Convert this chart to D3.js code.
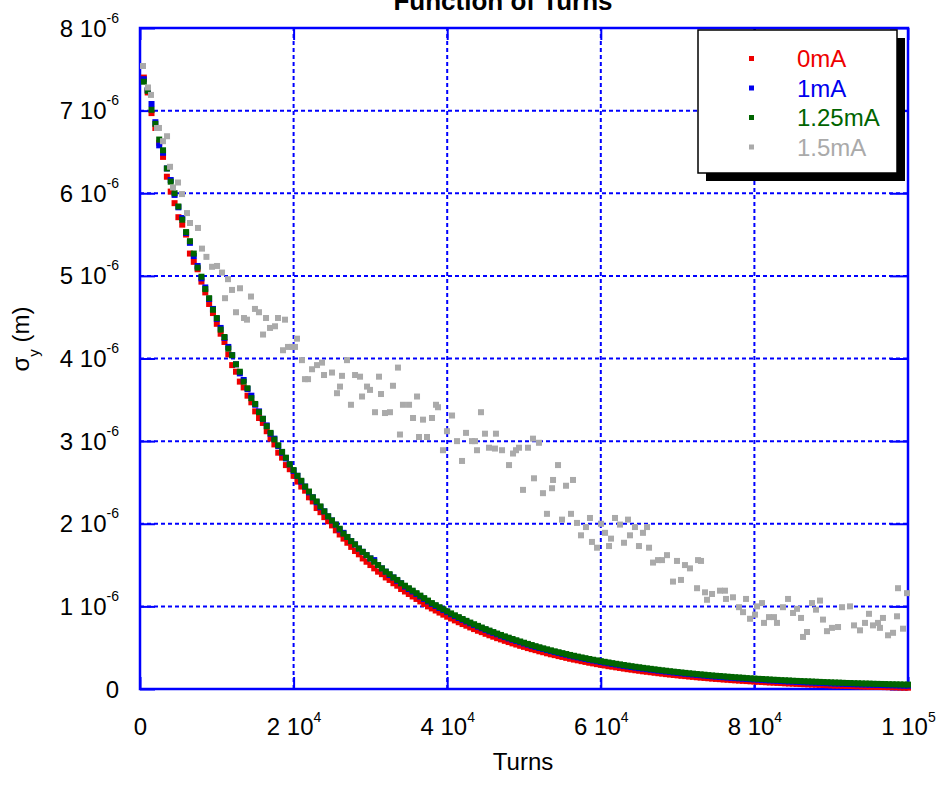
<!DOCTYPE html>
<html>
<head>
<meta charset="utf-8">
<script src="https://cdn.jsdelivr.net/npm/d3@7"></script>
<style>
  html, body { margin: 0; padding: 0; background: #fff; }
  svg { display: block; font-family: "Liberation Sans", Arial, sans-serif; }
</style>
</head>
<body>
<svg id="chart" width="939" height="799"></svg>
<script>
// Turn numbers shared by the 0mA, 1mA and 1.25mA runs
const turns = [
  500,1000,1500,2000,2500,3000,3500,4000,4500,5000,
  5500,6000,6500,7000,7500,8000,8500,9000,9500,10000,
  10500,11000,11500,12000,12500,13000,13500,14000,14500,15000,
  15500,16000,16500,17000,17500,18000,18500,19000,19500,20000,
  20500,21000,21500,22000,22500,23000,23500,24000,24500,25000,
  25500,26000,26500,27000,27500,28000,28500,29000,29500,30000,
  30500,31000,31500,32000,32500,33000,33500,34000,34500,35000,
  35500,36000,36500,37000,37500,38000,38500,39000,39500,40000,
  40500,41000,41500,42000,42500,43000,43500,44000,44500,45000,
  45500,46000,46500,47000,47500,48000,48500,49000,49500,50000,
  50500,51000,51500,52000,52500,53000,53500,54000,54500,55000,
  55500,56000,56500,57000,57500,58000,58500,59000,59500,60000,
  60500,61000,61500,62000,62500,63000,63500,64000,64500,65000,
  65500,66000,66500,67000,67500,68000,68500,69000,69500,70000,
  70500,71000,71500,72000,72500,73000,73500,74000,74500,75000,
  75500,76000,76500,77000,77500,78000,78500,79000,79500,80000,
  80500,81000,81500,82000,82500,83000,83500,84000,84500,85000,
  85500,86000,86500,87000,87500,88000,88500,89000,89500,90000,
  90500,91000,91500,92000,92500,93000,93500,94000,94500,95000,
  95500,96000,96500,97000,97500,98000,98500,99000,99500,100000
];

// Vertical beam size sigma_y, in units of 1e-6 m
const sigma0mA = [
  7.40,7.22,6.97,6.79,6.61,6.44,6.20,6.02,5.88,5.71,
  5.62,5.50,5.27,5.17,5.08,4.93,4.80,4.66,4.55,4.42,
  4.30,4.20,4.05,3.92,3.84,3.72,3.65,3.55,3.47,3.36,
  3.28,3.22,3.12,3.03,2.96,2.86,2.80,2.71,2.66,2.58,
  2.51,2.45,2.40,2.32,2.27,2.19,2.14,2.08,2.03,1.98,
  1.92,1.87,1.82,1.77,1.72,1.67,1.63,1.58,1.54,1.50,
  1.46,1.42,1.39,1.35,1.32,1.28,1.25,1.21,1.18,1.15,
  1.12,1.09,1.06,1.03,1.00,0.975,0.950,0.925,0.900,0.875,
  0.853,0.830,0.808,0.786,0.766,0.745,0.725,0.705,0.688,0.668,
  0.650,0.633,0.615,0.600,0.583,0.568,0.552,0.538,0.523,0.510,
  0.495,0.482,0.470,0.456,0.445,0.432,0.420,0.410,0.398,0.388,
  0.377,0.366,0.356,0.347,0.337,0.328,0.318,0.310,0.301,0.293,
  0.285,0.276,0.270,0.262,0.255,0.247,0.240,0.234,0.227,0.221,
  0.214,0.209,0.203,0.197,0.191,0.186,0.180,0.175,0.170,0.165,
  0.160,0.156,0.151,0.147,0.142,0.138,0.134,0.130,0.126,0.122,
  0.119,0.115,0.112,0.108,0.105,0.102,0.099,0.096,0.093,0.090,
  0.087,0.085,0.082,0.079,0.077,0.074,0.072,0.069,0.067,0.065,
  0.062,0.060,0.058,0.056,0.054,0.052,0.050,0.048,0.046,0.044,
  0.042,0.041,0.039,0.037,0.036,0.034,0.033,0.031,0.030,0.028,
  0.027,0.026,0.024,0.023,0.022,0.021,0.020,0.018,0.017,0.016
];

const sigma1mA = [
  7.38,7.25,7.08,6.86,6.58,6.49,6.30,6.16,5.98,5.83,
  5.70,5.52,5.40,5.24,5.12,4.97,4.86,4.72,4.60,4.48,
  4.37,4.25,4.14,4.04,3.93,3.82,3.74,3.63,3.55,3.44,
  3.36,3.27,3.19,3.09,3.03,2.94,2.86,2.79,2.72,2.64,
  2.58,2.51,2.45,2.38,2.32,2.26,2.20,2.15,2.09,2.04,
  1.99,1.93,1.89,1.84,1.79,1.75,1.70,1.66,1.62,1.58,
  1.56,1.50,1.46,1.42,1.38,1.35,1.31,1.28,1.24,1.21,
  1.18,1.15,1.12,1.09,1.06,1.03,1.005,0.980,0.955,0.930,
  0.905,0.882,0.860,0.838,0.816,0.795,0.774,0.755,0.735,0.716,
  0.697,0.680,0.662,0.645,0.628,0.612,0.596,0.581,0.566,0.551,
  0.537,0.523,0.510,0.497,0.484,0.471,0.459,0.447,0.436,0.425,
  0.414,0.403,0.393,0.383,0.373,0.363,0.354,0.345,0.336,0.327,
  0.319,0.311,0.303,0.295,0.287,0.280,0.273,0.266,0.259,0.252,
  0.246,0.240,0.234,0.228,0.222,0.216,0.211,0.205,0.200,0.195,
  0.190,0.185,0.180,0.176,0.171,0.167,0.163,0.158,0.154,0.150,
  0.147,0.143,0.139,0.136,0.132,0.129,0.125,0.122,0.119,0.116,
  0.113,0.110,0.107,0.104,0.102,0.099,0.096,0.094,0.091,0.089,
  0.087,0.084,0.082,0.080,0.078,0.076,0.074,0.072,0.070,0.068,
  0.066,0.065,0.063,0.061,0.060,0.058,0.057,0.055,0.054,0.052,
  0.051,0.050,0.048,0.047,0.046,0.045,0.044,0.042,0.041,0.040
];

const sigma125mA = [
  7.35,7.24,7.01,6.84,6.65,6.52,6.30,6.14,6.00,5.84,
  5.68,5.53,5.42,5.27,5.10,4.99,4.84,4.73,4.59,4.49,
  4.35,4.26,4.12,4.04,3.93,3.84,3.72,3.64,3.52,3.45,
  3.35,3.27,3.18,3.10,3.02,2.95,2.87,2.80,2.72,2.65,
  2.58,2.52,2.45,2.39,2.32,2.27,2.21,2.15,2.09,2.04,
  1.99,1.94,1.88,1.84,1.79,1.75,1.70,1.66,1.62,1.58,
  1.54,1.50,1.46,1.42,1.39,1.35,1.32,1.28,1.25,1.22,
  1.19,1.16,1.13,1.10,1.07,1.04,1.015,0.990,0.965,0.940,
  0.915,0.892,0.870,0.847,0.825,0.804,0.784,0.764,0.744,0.725,
  0.707,0.689,0.671,0.654,0.637,0.621,0.605,0.590,0.575,0.560,
  0.546,0.532,0.518,0.505,0.492,0.480,0.468,0.456,0.445,0.434,
  0.423,0.412,0.402,0.392,0.382,0.373,0.363,0.354,0.346,0.337,
  0.329,0.321,0.313,0.305,0.298,0.290,0.283,0.276,0.269,0.263,
  0.256,0.250,0.244,0.238,0.232,0.226,0.221,0.215,0.210,0.205,
  0.200,0.195,0.190,0.186,0.181,0.177,0.173,0.168,0.164,0.160,
  0.157,0.153,0.149,0.146,0.142,0.139,0.136,0.132,0.129,0.126,
  0.123,0.121,0.118,0.115,0.112,0.110,0.107,0.105,0.103,0.100,
  0.098,0.096,0.094,0.092,0.090,0.088,0.086,0.084,0.082,0.080,
  0.078,0.077,0.075,0.073,0.072,0.070,0.069,0.067,0.066,0.065,
  0.063,0.062,0.061,0.060,0.058,0.057,0.056,0.055,0.054,0.053
];

// The 1.5mA run, with its own turn numbers
const turns15mA = [
  390,1040,1430,2210,2470,2990,3520,3910,4300,4950,
  5470,6120,6510,7550,8070,8650,9380,10030,10680,11070,
  11460,11980,12500,13020,13540,13930,14450,14970,15490,16020,
  16410,16930,17580,17970,18620,18880,19270,19790,20180,20440,
  21090,21480,21880,22400,23050,23700,23960,25000,25650,26040,
  26300,26950,27470,28000,28650,28910,29560,29950,30600,31120,
  31380,31900,32550,32940,33590,33850,34240,35030,35550,36070,
  36330,36850,37370,38020,38540,38800,39450,39970,40630,41280,
  41930,42450,43230,43620,43880,44400,44920,45440,46220,46350,
  47140,48050,48570,48960,49350,49870,50520,51170,51300,51950,
  52470,52990,53650,53780,54430,54950,55470,56120,56380,56900,
  57420,58070,58590,58850,59510,60030,60550,61070,61330,61850,
  62500,63020,63540,63800,64450,64970,65490,66020,66280,66800,
  67450,67970,68620,69400,69920,70440,70960,71610,72530,72660,
  73050,73570,73830,74480,75520,76170,76300,77210,77990,78520,
  78910,79430,80080,80340,80990,81250,81900,82550,82940,83720,
  84380,85030,85550,86070,86330,86850,87500,88020,88540,88930,
  89450,90100,90890,91410,92450,92970,93750,94400,94920,95440,
  96090,96350,96740,97400,98050,98570,98700,99350,99870
];

const sigma15mA = [
  7.54,7.28,7.19,6.79,6.79,6.63,6.69,6.32,6.07,6.13,
  5.99,5.76,5.64,5.58,5.33,5.23,5.11,5.12,5.04,4.73,
  4.96,4.83,4.56,4.85,4.49,4.47,4.75,4.60,4.56,4.29,
  4.49,4.37,4.39,4.49,4.10,4.47,4.14,4.14,4.14,4.24,
  3.98,3.75,3.75,3.87,3.92,3.95,3.80,3.83,3.58,3.66,
  3.79,3.98,3.44,3.80,3.78,3.54,3.66,3.62,3.35,3.78,
  3.57,3.34,3.35,3.67,3.89,3.08,3.44,3.44,3.28,3.54,
  3.05,3.26,3.05,3.28,3.44,3.41,2.89,3.12,3.31,3.00,
  2.76,3.10,3.00,3.00,2.89,3.35,3.09,2.92,2.91,3.09,
  2.89,2.71,2.85,2.89,2.92,2.41,2.92,3.03,2.55,2.98,
  2.37,2.12,2.43,2.53,2.71,2.05,2.46,2.12,2.53,2.01,
  1.86,1.96,2.07,1.78,1.71,2.00,1.89,1.73,1.82,2.07,
  1.99,1.77,2.05,1.86,1.96,1.73,1.89,1.96,1.71,1.53,
  1.56,1.56,1.62,1.30,1.55,1.32,1.50,1.46,1.22,1.56,
  1.55,1.17,1.08,1.15,1.19,1.19,1.09,1.11,0.99,0.93,
  1.09,0.85,0.90,1.00,1.04,0.80,0.87,0.87,0.80,0.99,
  1.09,0.92,0.97,0.86,0.63,0.69,1.04,0.96,1.07,0.84,
  0.70,0.74,0.75,0.99,1.00,0.77,0.71,0.80,0.91,0.77,
  0.80,0.74,0.86,0.65,0.68,0.88,1.22,0.73,1.16
];

const seriesNames = ["0mA", "1mA", "1.25mA", "1.5mA"];
const seriesColors = ["#ee0000", "#0000ee", "#006400", "#aaaaaa"];

const xTicks = [0, 20000, 40000, 60000, 80000, 100000];
const xTickMantissa = ["0", "2 10", "4 10", "6 10", "8 10", "1 10"];
const xTickExponent = ["", "4", "4", "4", "4", "5"];

const yTicks = [0, 1, 2, 3, 4, 5, 6, 7, 8];
const yTickMantissa = ["0", "1 10", "2 10", "3 10", "4 10", "5 10", "6 10", "7 10", "8 10"];
const yTickExponent = ["", "-6", "-6", "-6", "-6", "-6", "-6", "-6", "-6"];

const frameBlue = "#0000ff";

const svg = d3.select("#chart");

const x = d3.scaleLinear().domain([0, 100000]).range([140, 908]);
const y = d3.scaleLinear().domain([0, 8]).range([689, 28]);

// Dashed grid
const grid = svg.append("g");
grid.selectAll("line.h").data(yTicks.slice(1, -1)).join("line")
  .attr("class", "h")
  .attr("x1", x(0)).attr("x2", x(100000))
  .attr("y1", d => y(d)).attr("y2", d => y(d))
  .attr("stroke", frameBlue).attr("stroke-width", 2)
  .attr("stroke-dasharray", "4,3");
grid.selectAll("line.v").data(xTicks.slice(1, -1)).join("line")
  .attr("class", "v")
  .attr("y1", y(0)).attr("y2", y(8))
  .attr("x1", d => x(d)).attr("x2", d => x(d))
  .attr("stroke", frameBlue).attr("stroke-width", 2)
  .attr("stroke-dasharray", "4,3");

// Tick label with a raised exponent
function writeLabel(textSel, mantissa, exponent, raise) {
  textSel.text(null);
  textSel.append("tspan").text(mantissa);
  if (exponent) {
    textSel.append("tspan").attr("font-size", 14).attr("dy", -raise).text(exponent);
  }
}

function styleAxis(g) {
  g.attr("font-family", null).attr("font-size", 24);
  g.select(".domain").remove();
  g.selectAll(".tick line").attr("stroke", frameBlue).attr("stroke-width", 2);
}

// Bottom axis
svg.append("g")
  .attr("transform", `translate(0,${y(0)})`)
  .call(d3.axisBottom(x).tickValues(xTicks).tickSize(-12).tickSizeOuter(0))
  .call(styleAxis)
  .call(g => g.selectAll(".tick text")
    .attr("y", 46).attr("dy", null).attr("fill", "#000")
    .each(function (d, i) { writeLabel(d3.select(this), xTickMantissa[i], xTickExponent[i], 13); }));

// Left axis
svg.append("g")
  .attr("transform", `translate(${x(0)},0)`)
  .call(d3.axisLeft(y).tickValues(yTicks).tickSize(-15).tickSizeOuter(0))
  .call(styleAxis)
  .call(g => g.selectAll(".tick text")
    .attr("x", -21).attr("y", 8).attr("dy", null).attr("fill", "#000")
    .each(function (d, i) { writeLabel(d3.select(this), yTickMantissa[i], yTickExponent[i], 14); }));

// Top and right ticks, no labels
svg.append("g")
  .attr("transform", `translate(0,${y(8)})`)
  .call(d3.axisTop(x).tickValues(xTicks).tickSize(-12).tickSizeOuter(0).tickFormat(() => ""))
  .call(styleAxis);
svg.append("g")
  .attr("transform", `translate(${x(100000)},0)`)
  .call(d3.axisRight(y).tickValues(yTicks).tickSize(-18).tickSizeOuter(0).tickFormat(() => ""))
  .call(styleAxis);

// Plot frame
svg.append("rect")
  .attr("x", x(0)).attr("y", y(8))
  .attr("width", x(100000) - x(0)).attr("height", y(0) - y(8))
  .attr("fill", "none").attr("stroke", frameBlue).attr("stroke-width", 2.5);

// Data points
const series = [
  { t: turns, s: sigma0mA },
  { t: turns, s: sigma1mA },
  { t: turns, s: sigma125mA },
  { t: turns15mA, s: sigma15mA }
];
const marker = 6;
series.forEach((ser, k) => {
  const pts = ser.s.map((v, i) => ({ t: ser.t[i], v }));
  svg.append("g").selectAll("rect").data(pts).join("rect")
    .attr("x", d => x(d.t) - marker / 2)
    .attr("y", d => y(d.v) - marker / 2)
    .attr("width", marker).attr("height", marker)
    .attr("fill", seriesColors[k]);
});

// Title (partly above the top edge)
svg.append("text")
  .attr("x", 503).attr("y", 10)
  .attr("text-anchor", "middle")
  .attr("font-size", 26).attr("font-weight", "bold")
  .attr("fill", "#000")
  .text("Function of Turns");

// Axis titles
svg.append("text")
  .attr("x", 523).attr("y", 770)
  .attr("text-anchor", "middle")
  .attr("font-size", 24).attr("fill", "#000")
  .text("Turns");

svg.append("text")
  .attr("transform", "translate(29,339) rotate(-90)")
  .attr("text-anchor", "middle")
  .attr("font-size", 24).attr("fill", "#000")
  .call(t => {
    t.append("tspan").text("σ");
    t.append("tspan").attr("font-size", 15).attr("dy", 10).text("y");
    t.append("tspan").attr("dy", -10).text(" (m)");
  });

// Legend with drop shadow
const legend = svg.append("g");
legend.append("rect")
  .attr("x", 706).attr("y", 38).attr("width", 199).attr("height", 143)
  .attr("fill", "#000");
legend.append("rect")
  .attr("x", 698).attr("y", 30).attr("width", 199).attr("height", 143)
  .attr("fill", "#fff").attr("stroke", "#000").attr("stroke-width", 1.5);
seriesNames.forEach((name, i) => {
  const cy = 58.5 + i * 29.5;
  legend.append("rect")
    .attr("x", 749).attr("y", cy - 2.5).attr("width", 5).attr("height", 5)
    .attr("fill", seriesColors[i]);
  legend.append("text")
    .attr("x", 797).attr("y", cy + 8.8)
    .attr("font-size", 24).attr("fill", seriesColors[i])
    .text(name);
});
</script>
</body>
</html>
